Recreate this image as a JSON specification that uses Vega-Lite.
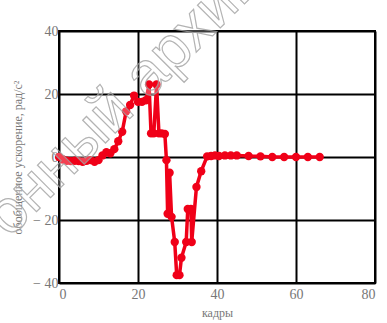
{
  "$schema": "https://vega.github.io/schema/vega-lite/v6.json",
  "autosize": "none",
  "width": 316,
  "height": 252,
  "padding": {"left": 59, "top": 31, "right": 12, "bottom": 40},
  "background": "white",
  "config": {
    "view": {"stroke": "black", "strokeWidth": 2},
    "axis": {
      "labelFont": "Liberation Serif",
      "titleFont": "Liberation Serif",
      "labelColor": "#777777",
      "titleColor": "#777777",
      "labelFontSize": 14,
      "titleFontSize": 12,
      "titleFontWeight": "normal",
      "gridColor": "black",
      "gridWidth": 2,
      "gridOpacity": 1,
      "ticks": false,
      "domain": false
    }
  },
  "datasets": {
    "series": [
      {"i": 0, "x": 0, "y": 0},
      {"i": 1, "x": 1, "y": -0.8},
      {"i": 2, "x": 2, "y": -1.2},
      {"i": 3, "x": 3, "y": -1.3},
      {"i": 4, "x": 4, "y": -1.2},
      {"i": 5, "x": 5, "y": -1.3},
      {"i": 6, "x": 6, "y": -1.5},
      {"i": 7, "x": 7, "y": -1.2},
      {"i": 8, "x": 8, "y": -1.0},
      {"i": 9, "x": 9, "y": -1.5},
      {"i": 10, "x": 10, "y": -1.0},
      {"i": 11, "x": 11, "y": 0.5},
      {"i": 12, "x": 12, "y": 1.5},
      {"i": 13, "x": 13, "y": 1.2},
      {"i": 14, "x": 14, "y": 2.5},
      {"i": 15, "x": 15, "y": 5},
      {"i": 16, "x": 16, "y": 8},
      {"i": 17, "x": 17, "y": 14.5},
      {"i": 18, "x": 18, "y": 16.5},
      {"i": 19, "x": 19, "y": 19.5},
      {"i": 20, "x": 20, "y": 17.5},
      {"i": 21, "x": 21, "y": 17.5},
      {"i": 22, "x": 22, "y": 18},
      {"i": 23, "x": 22.8, "y": 23},
      {"i": 24, "x": 23.3, "y": 7.5},
      {"i": 25, "x": 24, "y": 7.5},
      {"i": 26, "x": 24.7, "y": 23},
      {"i": 27, "x": 25.3, "y": 7.5},
      {"i": 28, "x": 26, "y": 7.5},
      {"i": 29, "x": 26.8, "y": 7.3},
      {"i": 30, "x": 27.2, "y": -1},
      {"i": 31, "x": 27.5, "y": -18},
      {"i": 32, "x": 28, "y": -5},
      {"i": 33, "x": 28.5, "y": -19},
      {"i": 34, "x": 29.3, "y": -27},
      {"i": 35, "x": 29.8, "y": -37.5},
      {"i": 36, "x": 30.5, "y": -37.5},
      {"i": 37, "x": 31, "y": -32},
      {"i": 38, "x": 32.2, "y": -27},
      {"i": 39, "x": 32.6, "y": -16.5},
      {"i": 40, "x": 33.4, "y": -16.5},
      {"i": 41, "x": 33.6, "y": -27},
      {"i": 42, "x": 34.8, "y": -9.5},
      {"i": 43, "x": 36, "y": -4.5},
      {"i": 44, "x": 37.5, "y": 0.2},
      {"i": 45, "x": 38.5, "y": 0.3},
      {"i": 46, "x": 39.5, "y": 0.5},
      {"i": 47, "x": 40.5, "y": 0.3},
      {"i": 48, "x": 42, "y": 0.5},
      {"i": 49, "x": 43.5, "y": 0.5},
      {"i": 50, "x": 45, "y": 0.5},
      {"i": 51, "x": 48, "y": 0.3},
      {"i": 52, "x": 51, "y": 0.2},
      {"i": 53, "x": 54, "y": 0},
      {"i": 54, "x": 57, "y": 0},
      {"i": 55, "x": 60, "y": 0},
      {"i": 56, "x": 63, "y": 0},
      {"i": 57, "x": 66, "y": 0}
    ],
    "mark": [
      {"x": 16.5, "y": 18.5, "label": "онный архив"}
    ]
  },
  "layer": [
    {
      "data": {"name": "series"},
      "encoding": {
        "x": {
          "field": "x", "type": "quantitative",
          "scale": {"domain": [0, 80], "nice": false},
          "axis": {"values": [0, 20, 40, 60, 80], "title": "кадры", "labelPadding": 4, "titlePadding": 6}
        },
        "y": {
          "field": "y", "type": "quantitative",
          "scale": {"domain": [-40, 40], "nice": false},
          "axis": {
            "values": [-40, -20, 0, 20, 40],
            "title": "обобщенное ускорение, рад/с²",
            "labelExpr": "datum.value < 0 ? '− ' + abs(datum.value) : '' + datum.value",
            "labelPadding": 1,
            "titlePadding": 8
          }
        },
        "order": {"field": "i", "type": "quantitative"}
      },
      "layer": [
        {"mark": {"type": "line", "color": "#f00018", "strokeWidth": 3.5}},
        {"mark": {"type": "point", "filled": true, "color": "#f00018", "size": 70, "opacity": 1}}
      ]
    },
    {
      "data": {"name": "mark"},
      "mark": {
        "type": "text",
        "font": "Liberation Sans",
        "fontSize": 61,
        "angle": -45,
        "align": "center",
        "baseline": "middle",
        "fill": "white",
        "fillOpacity": 0.25,
        "stroke": "#a0a0a0",
        "strokeWidth": 1.2,
        "strokeOpacity": 0.8
      },
      "encoding": {
        "x": {"field": "x", "type": "quantitative"},
        "y": {"field": "y", "type": "quantitative"},
        "text": {"field": "label"}
      }
    }
  ]
}
